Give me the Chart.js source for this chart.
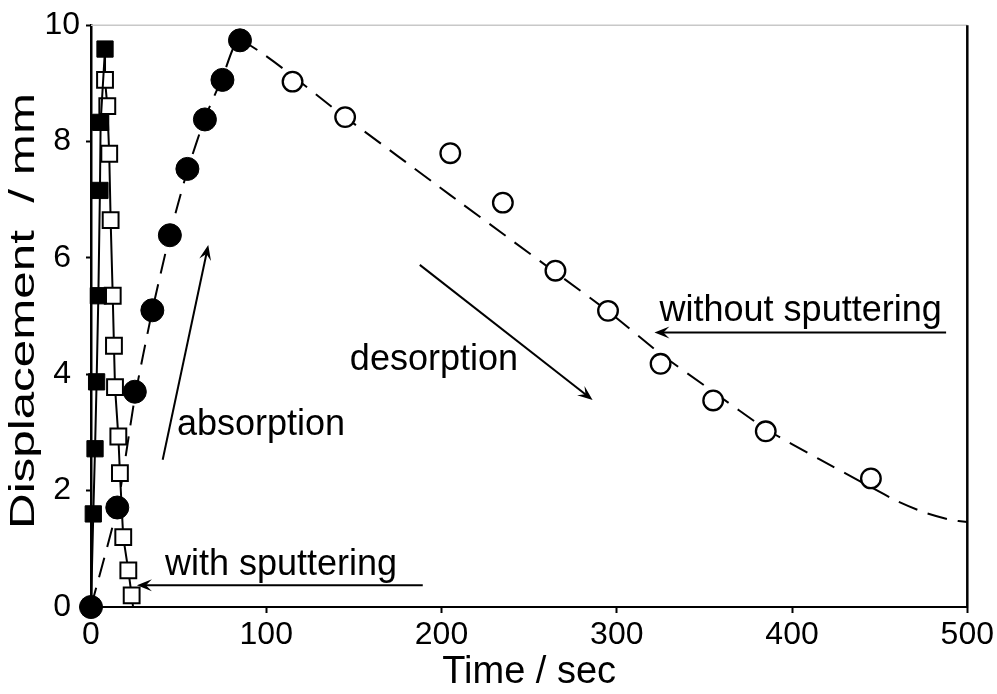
<!DOCTYPE html>
<html>
<head>
<meta charset="utf-8">
<script src="https://cdn.jsdelivr.net/npm/chart.js@4.4.1/dist/chart.umd.min.js"></script>
<style>
  html, body { margin: 0; padding: 0; background: #fff; }
</style>
</head>
<body>
<canvas id="grafico" width="997" height="694"></canvas>
<script>
// --- Dados ---

// Com sputtering: absorção (quadrados cheios)
const comSputAbsTempo = [0, 1.3, 2.3, 3.2, 4.2, 5.1, 5.5, 8];
const comSputAbsDesl = [0, 1.6, 2.72, 3.87, 5.35, 7.16, 8.33, 9.59];

// Com sputtering: dessorção (quadrados vazios), começa no último ponto da absorção
const comSputDesTempo = [8, 8, 9.3, 10.4, 11.2, 12.4, 13.1, 13.7, 15.6, 16.5, 18.4, 21.3, 23.2, 24];
const comSputDesDesl = [9.59, 9.06, 8.61, 7.79, 6.65, 5.35, 4.49, 3.78, 2.93, 2.3, 1.2, 0.63, 0.2, 0];

// Sem sputtering: absorção (círculos cheios)
const semSputAbsTempo = [0, 15, 25, 35, 45, 55, 65, 75, 85];
const semSputAbsDesl = [0, 1.71, 3.7, 5.1, 6.39, 7.53, 8.38, 9.06, 9.74];

// Sem sputtering: dessorção (círculos vazios)
const semSputDesTempo = [115, 145, 205, 235, 265, 295, 325, 355, 385, 445];
const semSputDesDesl = [9.03, 8.42, 7.8, 6.95, 5.78, 5.09, 4.18, 3.55, 3.02, 2.21];

// Curva tracejada (ajuste) sem sputtering
const curvaTempo = [0, 15, 25, 35, 45, 55, 65, 75, 85, 145, 205, 265, 296, 325, 355, 385, 415, 445, 460, 475, 490, 500];
const curvaDesl = [0, 1.72, 3.6, 5.1, 6.4, 7.5, 8.4, 9.1, 9.74, 8.42, 7.08, 5.75, 5.06, 4.35, 3.7, 3.06, 2.55, 2.06, 1.82, 1.63, 1.5, 1.46];

// Eixos
const ticksX = [0, 100, 200, 300, 400, 500];
const ticksY = [0, 2, 4, 6, 8, 10];

// Anotações (em coordenadas dos dados)
const notas = [
    { texto: 'absorption', x: 49, y: 2.96 },
    { texto: 'desorption', x: 147.7, y: 4.07 },
    { texto: 'without sputtering', x: 324.4, y: 4.92 },
    { texto: 'with sputtering', x: 42.2, y: 0.545 }
];
const setas = [
    { de: [40.9, 2.53], para: [66.9, 6.22] },
    { de: [187.6, 5.88], para: [286.2, 3.56] },
    { de: [487.9, 4.72], para: [321.5, 4.72] },
    { de: [189.3, 0.375], para: [26.2, 0.375] }
];

const fonte = '"Liberation Sans", Arial, sans-serif';

function pares(xs, ys) {
    return xs.map((x, i) => ({ x: x, y: ys[i] }));
}

// Raio dos quadrados vazios: sem marcador no primeiro e no último ponto (só ligação)
const raioQuadVazio = comSputDesTempo.map((_, i) => (i === 0 || i === comSputDesTempo.length - 1) ? 0 : 11.2);

// Plugin: moldura superior/direita, rótulo do eixo Y e anotações com setas
const extras = {
    id: 'extras',
    afterDraw(chart) {
        const ctx = chart.ctx;
        const a = chart.chartArea;
        const sx = chart.scales.x;
        const sy = chart.scales.y;
        ctx.save();

        // moldura
        ctx.strokeStyle = '#c8c8c8';
        ctx.lineWidth = 1.5;
        ctx.beginPath();
        ctx.moveTo(a.left, a.top);
        ctx.lineTo(a.right, a.top);
        ctx.stroke();
        ctx.strokeStyle = '#000';
        ctx.lineWidth = 2.5;
        ctx.beginPath();
        ctx.moveTo(a.right, a.top);
        ctx.lineTo(a.right, a.bottom + 1);
        ctx.stroke();

        // rótulo do eixo Y (esticado, como no original)
        ctx.save();
        ctx.translate(24, 311);
        ctx.rotate(-Math.PI / 2);
        ctx.font = '35px ' + fonte;
        const txtY = 'Displacement  / mm';
        const larg = ctx.measureText(txtY).width;
        ctx.scale(436 / larg, 1);
        ctx.fillStyle = '#000';
        ctx.textAlign = 'center';
        ctx.textBaseline = 'middle';
        ctx.fillText(txtY, 0, 0);
        ctx.restore();

        // textos
        ctx.fillStyle = '#000';
        ctx.font = '36px ' + fonte;
        ctx.textAlign = 'left';
        ctx.textBaseline = 'alphabetic';
        notas.forEach(n => {
            ctx.fillText(n.texto, sx.getPixelForValue(n.x), sy.getPixelForValue(n.y));
        });

        // setas
        ctx.strokeStyle = '#000';
        ctx.lineWidth = 2;
        setas.forEach(s => {
            const x0 = sx.getPixelForValue(s.de[0]);
            const y0 = sy.getPixelForValue(s.de[1]);
            const x1 = sx.getPixelForValue(s.para[0]);
            const y1 = sy.getPixelForValue(s.para[1]);
            const ang = Math.atan2(y1 - y0, x1 - x0);
            const c = Math.cos(ang), sn = Math.sin(ang);
            const L = 15, W = 6;
            ctx.beginPath();
            ctx.moveTo(x0, y0);
            ctx.lineTo(x1 - c * 8, y1 - sn * 8);
            ctx.stroke();
            ctx.beginPath();
            ctx.moveTo(x1, y1);
            ctx.lineTo(x1 - c * L - sn * W, y1 - sn * L + c * W);
            ctx.lineTo(x1 - c * L * 0.6, y1 - sn * L * 0.6);
            ctx.lineTo(x1 - c * L + sn * W, y1 - sn * L - c * W);
            ctx.closePath();
            ctx.fill();
        });

        ctx.restore();
    }
};

const ctx = document.getElementById('grafico').getContext('2d');

const grafico = new Chart(ctx, {
    type: 'scatter',
    data: {
        datasets: [
            {
                label: 'with sputtering (absorption)',
                data: pares(comSputAbsTempo, comSputAbsDesl),
                showLine: true,
                borderColor: '#000',
                borderWidth: 2,
                backgroundColor: '#000',
                pointStyle: 'rect',
                pointRadius: 11.5,
                pointBorderWidth: 1,
                clip: false
            },
            {
                label: 'with sputtering (desorption)',
                data: pares(comSputDesTempo, comSputDesDesl),
                showLine: true,
                borderColor: '#000',
                borderWidth: 2,
                pointBackgroundColor: '#fff',
                pointBorderColor: '#000',
                pointStyle: 'rect',
                pointRadius: raioQuadVazio,
                pointBorderWidth: 2,
                clip: false
            },
            {
                label: 'without sputtering (absorption)',
                data: pares(semSputAbsTempo, semSputAbsDesl),
                showLine: false,
                pointBackgroundColor: '#000',
                pointBorderColor: '#000',
                pointStyle: 'circle',
                pointRadius: 11.5,
                pointBorderWidth: 1,
                clip: false
            },
            {
                label: 'without sputtering (desorption)',
                data: pares(semSputDesTempo, semSputDesDesl),
                showLine: false,
                pointBackgroundColor: '#fff',
                pointBorderColor: '#000',
                pointStyle: 'circle',
                pointRadius: 9.8,
                pointBorderWidth: 2.3,
                clip: false
            },
            {
                label: 'fit',
                data: pares(curvaTempo, curvaDesl),
                showLine: true,
                borderColor: '#000',
                borderWidth: 2,
                borderDash: [20, 11],
                pointRadius: 0,
                tension: 0.2,
                clip: false
            }
        ]
    },
    options: {
        responsive: false,
        animation: false,
        layout: { padding: { left: 0, top: 20, right: 29, bottom: 0 } },
        plugins: {
            legend: { display: false },
            tooltip: { enabled: false }
        },
        scales: {
            x: {
                type: 'linear',
                min: 0,
                max: 500,
                afterFit: (s) => { s.height = 87; },
                afterBuildTicks: (s) => { s.ticks = ticksX.map(v => ({ value: v })); },
                ticks: {
                    color: '#000',
                    font: { size: 32, family: fonte },
                    padding: 3,
                    maxRotation: 0
                },
                grid: { drawOnChartArea: false, drawTicks: true, tickLength: 6, tickWidth: 2, tickColor: '#000' },
                border: { display: true, color: '#000', width: 2 },
                title: {
                    display: true,
                    text: 'Time / sec',
                    color: '#000',
                    font: { size: 38, family: fonte },
                    padding: { top: 0, bottom: -1 }
                }
            },
            y: {
                type: 'linear',
                min: 0,
                max: 10,
                afterFit: (s) => { s.width = 91; },
                afterBuildTicks: (s) => { s.ticks = ticksY.map(v => ({ value: v })); },
                ticks: {
                    color: '#000',
                    font: { size: 32, family: fonte },
                    padding: 6,
                    crossAlign: 'center'
                },
                grid: { drawOnChartArea: false, drawTicks: true, tickLength: 5, tickWidth: 2, tickColor: '#000' },
                border: { display: true, color: '#000', width: 2.5 }
            }
        }
    },
    plugins: [extras]
});
</script>
</body>
</html>
